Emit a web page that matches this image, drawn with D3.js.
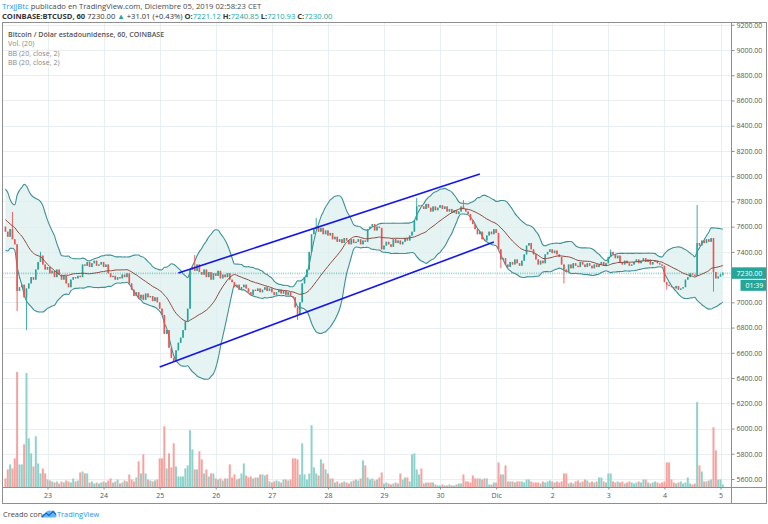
<!DOCTYPE html>
<html><head><meta charset="utf-8">
<script src="https://cdn.jsdelivr.net/npm/d3@7"></script>
<style>
body{margin:0;background:#fff;}
svg{display:block;font-family:"Open Sans",sans-serif;}
</style>
</head><body>
<svg id="c" width="768" height="524"></svg>
<script>
// ---------------- DATA ----------------
const firstCandle = Date.UTC(2019, 10, 22, 6); // 22 Nov 2019 06:00 UTC, hourly candles
// closes before the first visible candle (only used to warm up the Bollinger bands)
const warmupCloses = [7850,7920,7820,7720,7620,7560,7520,7600,7720,7800,7700,7580,7500,7470,7540,7620,7720,7680,7600];
const closes = [
7560,7520,7580,7500,7460, 7090, 7120,7140,7040,7110, 7150,7200,7180,7260,7320,
7370,7300,7260,7280,7230,7250,7200,7260,7220,7180,7210,7150,
7120,7180,7200,7190,7210,7200,
7300,7290,7320,7280,7310,7330,7290,7300,7320,7280,7300,
7230,7200,7210,7180,7200,7190,7220,7200,7230,
7150,7100,7050,7080,7030,
7060,7020,7070,7040,7050,7010,7040,7000,
6950,6900,6750,6780,6640,6560,
6530,6620,6680,6720,6780,6850,6950,
7260, 7280,7250,7300,7240,
7220,7260,7200,7240,7180,7230,7210,7250,7190,7220,7200,7230,7180,
7160,7120,7140,7100,7120,7140,7110,
7080,7060,7100,7090,7110,7080,7100,7120,7090,7110,7080,
7060,7080,7100,7070,7090,7060,7080,7050,7040,
6960,6900, 7000,7150,7200,7260, 7400,7540,
7580,7600,7560,7590,7540,7570,
7530,7550,7500,7520,7480,7500,7470,7510,7490,7460,7500,7470,
7480,7500,7460,7490,7480,
7580,7600,7620,7570,7600,7590, 7420,
7450,7480,7460,7440,7500,7470,7490,7460,7480,7510,7490,7530,7560,
7650,7760,7770,
7760,7740,7780,7750,7720,7760,7730,7750,7770,7740,7760,7720,7740,7710,7730,7700,7720,
7760,7740,7720,7700,
7650,7620,7580,7540,7560,7500,7490,
7530,7560,7540,7580,7550,
7420,7340,7350,7300,7280,
7320,7300,7340,7310,7290,7330,7380,7450,7470,7420,7380,7340,7300,7330,7310,
7380,7400,7420,7390,7410,7380,7360,
7300,7260,7240,
7300,7270,7310,7290,7280,7320,7300,7280,7310,7290,7270,7300,7280,7300,7320,7290,7310,
7360,7400,7380,7350,7370,
7320,7300,7330,7310,7290,7300,7320,7340,7310,7330,7350,7320,7340,7300,7320,7330,7310,7300,7290,
7160,7140,
7130,7120,7110,7130,7100,7110,7120,
7180,7200,7230,7220,7210,
7470,
7450,7490,7470,7500,7480,7510,
7240,
7190,7205,7221.12,7230.00
];
// long wicks: [candle index, high, low] (null = no extra wick)
const wicks = [
[3,7716,null],[5,null,6930],[9,null,6780],[15,7400,null],[72,null,6527],[81,7375,null],
[125,null,6860],[133,7669,null],[176,7827,null],[196,7811,null],[212,null,7270],
[239,null,7150],[259,7420,null],[283,null,7100],[296,7772,null],[303,null,7085],
[307,7240.85,7210.93]
];
const volumes = [
9,18,23,19,29,115,23,23,43,114,49,34,21,51,24,14,19,14,8,
7,6,5,6,4,6,5,7,6,5,
9,6,7,15,16,14,14,
5,6,4,5,4,5,6,5,
7,9,5,6,8,4,5,7,6,
13,8,6,10,26,14,33,14,8,7,6,7,8,
29,29,61,19,34,20,44,21,11,11,11,19,22,57,38,18,18,36,28,14,18,11,14,14,
9,8,9,7,9,9,23,10,13,8,9,14,24,12,
10,11,9,10,10,13,13,12,13,
6,5,6,7,6,5,8,8,7,
8,29,29,28,13,44,13,8,14,62,20,14,12,28,24,18,14,9,9,
5,6,4,5,6,5,4,6,7,8,7,9,
27,22,10,8,9,7,8,10,15,
4,5,4,3,4,5,4,
14,8,10,10,6,33,34,18,13,19,4,5,5,5,5,
3,2,2,3,2,2,3,2,2,3,
4,4,13,6,6,5,12,9,9,9,8,9,9,3,3,5,5,25,13,13,22,6,
6,6,5,6,6,6,5,8,8,
6,5,5,5,4,6,5,6,7,6,5,6,5,6,
14,14,4,5,4,6,7,5,
6,8,7,5,6,5,6,10,10,6,5,14,14,
6,5,6,5,6,4,5,6,5,4,5,6,5,
8,8,5,4,5,6,5,4,5,6,25,25,8,
5,4,5,6,4,5,10,4,3,4,85,22,16,
6,6,7,8,60,37,8,8,3
];
const priceTicks = [5600,5800,6000,6200,6400,6600,6800,7000,7200,7400,7600,7800,8000,8200,8400,8600,8800,9000,9200];
const dayTicks = ["2019-11-23","2019-11-24","2019-11-25","2019-11-26","2019-11-27","2019-11-28","2019-11-29","2019-11-30","2019-12-01","2019-12-02","2019-12-03","2019-12-04","2019-12-05"];
const dayLabels = ["23","24","25","26","27","28","29","30","Dic","2","3","4","5"];
const channelUpper = [["2019-11-25T08:00:00Z",7233],["2019-11-30T17:00:00Z",8017]];
const channelLower = [["2019-11-25T00:00:00Z",6488],["2019-11-30T23:00:00Z",7478]];
const lastPrice = 7230.00;
const countdown = "01:39";
const headerLine1 = ["TrxjjBtc"," publicado en TradingView.com, Diciembre 05, 2019 02:58:23 CET"];
const headerLine2 = [["COINBASE:BTCUSD, 60","k",true],[" 7230.00 ","k",false],["▲","g",false],[" +31.01 (+0.43%) ","k",false],
  ["O:","k",true],["7221.12 ","g",false],["H:","k",true],["7240.85 ","g",false],["L:","k",true],["7210.93 ","g",false],["C:","k",true],["7230.00","g",false]];
const legendLines = ["Bitcoin / Dólar estadounidense, 60, COINBASE","Vol. (20)","BB (20, close, 2)","BB (20, close, 2)"];

// ---------------- LAYOUT ----------------
const L = 2.5, R = 766.5, T = 22.5, B = 503.5, AX = 731.5, BOT = 487.5;
const GREEN = "#26a69a", RED = "#ef5350";
const svg = d3.select("#c");

const x = d3.scaleUtc().domain([new Date("2019-11-23T00:00:00Z"), new Date("2019-12-05T00:00:00Z")]).range([47.5, 720.5]);
const y = d3.scaleLinear().domain([5600, 9000]).range([479, 50]);
const yV = d3.scaleLinear().domain([0, d3.max(volumes)]).range([BOT, 372]);

const all = warmupCloses.concat(closes);
const W = warmupCloses.length;
const wickMap = new Map(wicks.map(w => [w[0], w]));
const candles = closes.map((c, i) => {
  const o = all[W + i - 1];
  let hi = Math.max(o, c), lo = Math.min(o, c);
  const w = wickMap.get(i);
  if (w) { if (w[1] != null) hi = Math.max(hi, w[1]); if (w[2] != null) lo = Math.min(lo, w[2]); }
  const win = all.slice(W + i - 19, W + i + 1);
  const m = d3.mean(win);
  const sd = Math.sqrt(d3.mean(win, v => (v - m) * (v - m)));
  return {t: new Date(firstCandle + i * 3600e3), o, c, hi, lo, v: volumes[i], basis: m, up: m + 2 * sd, dn: m - 2 * sd};
});

// clips
const defs = svg.append("defs");
defs.append("clipPath").attr("id", "plot").append("rect")
  .attr("x", L + 0.5).attr("y", T + 0.5).attr("width", AX - L - 1).attr("height", BOT - T - 1);
defs.append("clipPath").attr("id", "pax").append("rect")
  .attr("x", AX).attr("y", T + 0.5).attr("width", R - AX).attr("height", BOT - T);

// grid
const g = svg.append("g").attr("clip-path", "url(#plot)");
g.selectAll(".hg").data(priceTicks).join("line")
  .attr("x1", L).attr("x2", AX).attr("y1", d => Math.round(y(d)) + 0.5).attr("y2", d => Math.round(y(d)) + 0.5)
  .attr("stroke", "#e9eef2").attr("stroke-width", 1);
g.selectAll(".vg").data(dayTicks).join("line")
  .attr("y1", T).attr("y2", BOT).attr("x1", d => Math.round(x(new Date(d + "T00:00:00Z"))) + 0.5).attr("x2", d => Math.round(x(new Date(d + "T00:00:00Z"))) + 0.5)
  .attr("stroke", "#e9eef2").attr("stroke-width", 1);

// volume
g.selectAll(".vol").data(candles).join("rect")
  .attr("x", d => x(d.t) - 1.0).attr("width", 2.0)
  .attr("y", d => yV(d.v)).attr("height", d => BOT - yV(d.v))
  .attr("fill", d => d.c >= d.o ? "#8fd2cb" : "#f6a3a0");

// Bollinger band fill and lines
const area = d3.area().x(d => x(d.t)).y0(d => y(d.dn)).y1(d => y(d.up)).curve(d3.curveMonotoneX);
g.append("path").datum(candles).attr("d", area).attr("fill", "#dcefee").attr("opacity", 0.75);
const line = k => d3.line().x(d => x(d.t)).y(d => y(d[k])).curve(d3.curveMonotoneX);
g.append("path").datum(candles).attr("d", line("up")).attr("fill", "none").attr("stroke", "#3f8f96").attr("stroke-width", 1.1);
g.append("path").datum(candles).attr("d", line("dn")).attr("fill", "none").attr("stroke", "#3f8f96").attr("stroke-width", 1.1);

// current price dotted line
g.append("line").attr("x1", L).attr("x2", AX).attr("y1", y(lastPrice)).attr("y2", y(lastPrice))
  .attr("stroke", GREEN).attr("stroke-width", 1.6).attr("stroke-dasharray", "1,1.3").attr("opacity", 0.5);

// candles
const cg = g.append("g");
cg.selectAll(".wk").data(candles).join("line")
  .attr("x1", d => x(d.t)).attr("x2", d => x(d.t)).attr("y1", d => y(d.hi)).attr("y2", d => y(d.lo))
  .attr("stroke", d => d.c >= d.o ? GREEN : RED).attr("stroke-width", 0.9);
cg.selectAll(".bd").data(candles).join("rect")
  .attr("x", d => x(d.t) - 0.8).attr("width", 1.6)
  .attr("y", d => y(Math.max(d.o, d.c))).attr("height", d => Math.max(0.8, Math.abs(y(d.o) - y(d.c))))
  .attr("fill", d => d.c >= d.o ? GREEN : RED);

// basis
g.append("path").datum(candles).attr("d", line("basis")).attr("fill", "none").attr("stroke", "#8e4c42").attr("stroke-width", 1);

// channel lines
[channelUpper, channelLower].forEach(ch => {
  g.append("line")
    .attr("x1", x(new Date(ch[0][0]))).attr("y1", y(ch[0][1]))
    .attr("x2", x(new Date(ch[1][0]))).attr("y2", y(ch[1][1]))
    .attr("stroke", "#1414f0").attr("stroke-width", 1.6);
});

// frame
const fr = svg.append("g").attr("fill", "none").attr("stroke", "#8f8f8f").attr("stroke-width", 1);
fr.append("rect").attr("x", L).attr("y", T).attr("width", R - L).attr("height", B - T);
fr.append("line").attr("x1", AX).attr("x2", AX).attr("y1", T).attr("y2", B);
fr.append("line").attr("x1", L).attr("x2", R).attr("y1", BOT).attr("y2", BOT);

// price axis (labels hidden where the last-price box covers them)
const ly = y(lastPrice);
const visibleTicks = priceTicks.filter(p => Math.abs(y(p) - ly) > 10);
const paxWrap = svg.append("g").attr("clip-path", "url(#pax)");
const pax = paxWrap.append("g").attr("transform", `translate(${AX},0)`)
  .call(d3.axisRight(y).tickValues(visibleTicks).tickFormat(d3.format(".2f")).tickSize(3).tickPadding(2));
pax.select(".domain").remove();
pax.selectAll(".tick line").attr("stroke", "#8f8f8f");
pax.selectAll(".tick text").attr("fill", "#555").attr("font-size", 7).attr("font-family", "'Open Sans',sans-serif");

// last price labels
svg.append("rect").attr("x", AX + 0.5).attr("y", ly - 6).attr("width", R - AX - 1).attr("height", 11.5).attr("fill", GREEN);
svg.append("text").attr("x", AX + 5).attr("y", ly + 2.4).attr("fill", "#fff").attr("font-size", 7).text(d3.format(".2f")(lastPrice));
svg.append("rect").attr("x", AX + 9).attr("y", ly + 6.5).attr("width", R - AX - 9.5).attr("height", 11).attr("fill", GREEN);
svg.append("text").attr("x", AX + 14).attr("y", ly + 14.6).attr("fill", "#fff").attr("font-size", 7).text(countdown);

// date axis
const dax = svg.append("g").attr("transform", `translate(0,${BOT})`)
  .call(d3.axisBottom(x).tickValues(dayTicks.map(d => new Date(d + "T00:00:00Z"))).tickFormat((d, i) => dayLabels[i]).tickSize(2).tickPadding(4));
dax.select(".domain").remove();
dax.selectAll(".tick line").attr("stroke", "#8f8f8f");
dax.selectAll(".tick text").attr("fill", "#555").attr("font-size", 7).attr("font-family", "'Open Sans',sans-serif");

// header
const h1 = svg.append("text").attr("x", 2).attr("y", 8.8).attr("font-size", 7.7).attr("fill", "#4a4a4a");
h1.append("tspan").attr("fill", "#2196f3").text(headerLine1[0]);
h1.append("tspan").text(headerLine1[1]);
const h2 = svg.append("text").attr("x", 2).attr("y", 18.6).attr("font-size", 7.6).attr("fill", "#333");
headerLine2.forEach(p => h2.append("tspan").attr("fill", p[1] === "g" ? GREEN : "#333").attr("font-weight", p[2] ? 700 : 400).text(p[0]));

// legend
legendLines.forEach((t, i) => {
  svg.append("text").attr("x", 8).attr("y", [36.6, 46.2, 55.8, 65.3][i]).attr("font-size", 7.1)
    .attr("fill", i === 0 ? "#555" : "#8a8a8a").attr("font-weight", i === 0 ? 600 : 400).text(t);
});

// footer
svg.append("text").attr("x", 3).attr("y", 516.5).attr("font-size", 7.4).attr("fill", "#444").text("Creado con");
const logo = svg.append("g").attr("transform", "translate(41,508.5)");
logo.append("path").attr("d", "M0,9 C0,6 2,5 4,5.5 C5,2.5 8,1 10.5,2.5 C12,1.5 14.5,2.5 14.5,5 C16,5.5 16,9 14,9 Z").attr("fill", "#64b5f6");
logo.append("path").attr("d", "M1,8.5 L5,4.5 L8,7 L12,3 L15,6").attr("fill", "none").attr("stroke", "#1565c0").attr("stroke-width", 1.1);
svg.append("text").attr("x", 57).attr("y", 516.5).attr("font-size", 7.4).attr("fill", "#2196f3").text("TradingView");
</script>
</body></html>
